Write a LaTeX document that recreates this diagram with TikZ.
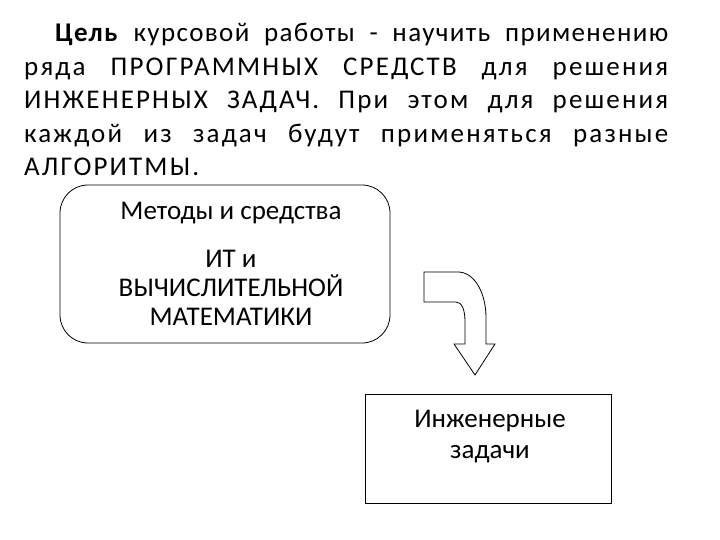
\documentclass[tikz,border=0pt]{standalone}
\usepackage{fontspec}
\setmainfont{Carlito}
\newfontfamily\parafont[LetterSpace=8]{Carlito}
\newfontfamily\firstfont[LetterSpace=5]{Carlito}
\begin{document}
\begin{tikzpicture}[x=1pt,y=-1pt,
  txt/.style={inner sep=0pt, font=\fontsize{27}{33}\selectfont},
  frame/.style={draw=black, line width=0.8pt}]
\useasboundingbox[fill=white] (0,0) rectangle (720,540);
% paragraph
\node[txt, anchor=base west, text width=644pt, align=justify,
  font=\parafont\fontsize{27}{33.5}\selectfont] (para) at (24,42)
  {{\firstfont\hspace*{31pt}\textbf{Цель} курсовой работы - научить применению}\linebreak
   ряда ПРОГРАММНЫХ СРЕДСТВ для решения\linebreak
   ИНЖЕНЕРНЫХ ЗАДАЧ. При этом для решения\linebreak
   каждой из задач будут применяться разные\linebreak
   АЛГОРИТМЫ.};
% rounded box
\node[frame, rounded corners=28pt, minimum width=330pt, minimum height=158pt, inner sep=0pt] (meth) at (225,264) {};
\node[txt, anchor=base] (m1) at (231,220) {Методы и средства};
\node[txt, anchor=base] (m2) at (231,267) {ИТ и};
\node[txt, anchor=base] (m3) at (231,296) {ВЫЧИСЛИТЕЛЬНОЙ};
\node[txt, anchor=base] (m4) at (231,325) {МАТЕМАТИКИ};
% task box
\node[frame, minimum width=246pt, minimum height=109pt, inner sep=0pt] (task) at (488,448.5) {};
\node[txt, anchor=base] (t1) at (490,427) {Инженерные};
\node[txt, anchor=base] (t2) at (490,458) {задачи};
% curved block arrow
\draw[frame, line join=miter] (424,272) -- (458,272)
  .. controls (474,272) and (486,292) .. (486,318) -- (486,344)
  -- (495,344) -- (475,375) -- (454,344) -- (465,344) -- (465,322)
  .. controls (465,310) and (462,302) .. (456,302) -- (424,302) -- cycle;
\end{tikzpicture}
\end{document}
